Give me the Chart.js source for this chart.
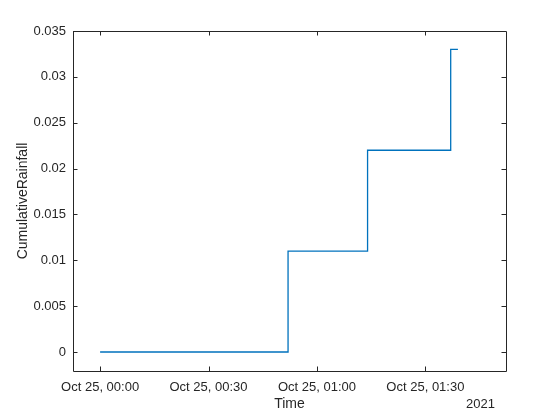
<!DOCTYPE html>
<html>
<head>
<meta charset="utf-8">
<script src="https://cdn.jsdelivr.net/npm/chart.js@4"></script>
<style>
  body { margin: 0; background: #fff; }
  canvas { display: block; }
</style>
</head>
<body>
<canvas id="myChart" width="560" height="420"></canvas>
<script>
// minutes after Oct 25 2021 00:00
const timeMinutes = [0, 52, 74, 97, 99];
const cumulativeRainfall = [0, 0.011, 0.022, 0.033, 0.033];

const xTickValues = [0, 30, 60, 90];
const xTickLabels = ["Oct 25, 00:00", "Oct 25, 00:30", "Oct 25, 01:00", "Oct 25, 01:30"];
const yTickValues = [0, 0.005, 0.01, 0.015, 0.02, 0.025, 0.03, 0.035];

const axisColor = "#262626";
const tickFont = { family: "'Liberation Sans', Arial, sans-serif", size: 13 };
const labelFont = { family: "'Liberation Sans', Arial, sans-serif", size: 14 };

// box round the plot with inward ticks on all four sides, like matlab
const boxPlugin = {
  id: "box",
  afterDraw(chart) {
    const { ctx, chartArea: a } = chart;
    const xs = chart.scales.x, ys = chart.scales.y;
    const len = 4.5;
    ctx.save();
    ctx.strokeStyle = axisColor;
    ctx.lineWidth = 1;
    ctx.beginPath();
    ctx.rect(Math.round(a.left) + 0.5, Math.round(a.top) + 0.5,
      Math.round(a.right - a.left), Math.round(a.bottom - a.top));
    xs.ticks.forEach((t) => {
      const px = Math.round(xs.getPixelForValue(t.value)) + 0.5;
      ctx.moveTo(px, a.bottom); ctx.lineTo(px, a.bottom - len);
      ctx.moveTo(px, a.top); ctx.lineTo(px, a.top + len);
    });
    ys.ticks.forEach((t) => {
      const py = Math.round(ys.getPixelForValue(t.value)) + 0.5;
      ctx.moveTo(a.left, py); ctx.lineTo(a.left + len, py);
      ctx.moveTo(a.right, py); ctx.lineTo(a.right - len, py);
    });
    ctx.stroke();
    // year label under the right end of the time axis
    ctx.fillStyle = axisColor;
    ctx.font = "13px 'Liberation Sans', Arial, sans-serif";
    ctx.textAlign = "right";
    ctx.textBaseline = "middle";
    ctx.fillText("2021", a.right - 11, 404);
    ctx.restore();
  },
};

const config = {
  type: "line",
  data: {
    datasets: [
      {
        data: timeMinutes.map((t, i) => ({ x: t, y: cumulativeRainfall[i] })),
        stepped: true,
        borderColor: "#0072BD",
        borderWidth: 1.3,
        pointRadius: 0,
        fill: false,
      },
    ],
  },
  options: {
    responsive: false,
    animation: false,
    layout: { padding: { top: 31, right: 54, left: 0, bottom: 0 } },
    plugins: { legend: { display: false }, tooltip: { enabled: false } },
    scales: {
      x: {
        type: "linear",
        min: -7.5,
        max: 112.3,
        grid: { display: false, drawTicks: false },
        border: { display: false },
        afterBuildTicks: (s) => { s.ticks = xTickValues.map((v) => ({ value: v })); },
        afterFit: (s) => { s.height = 49; },
        ticks: {
          color: axisColor,
          font: tickFont,
          padding: 9,
          maxRotation: 0,
          autoSkip: false,
          callback: (v) => xTickLabels[xTickValues.indexOf(v)],
        },
        title: { display: true, text: "Time", color: axisColor, font: labelFont, padding: { top: 7, bottom: 7 } },
      },
      y: {
        min: -0.00207,
        max: 0.035,
        grid: { display: false, drawTicks: false },
        border: { display: false },
        afterBuildTicks: (s) => { s.ticks = yTickValues.map((v) => ({ value: v })); },
        afterFit: (s) => { s.width = 73; },
        ticks: {
          color: axisColor,
          font: tickFont,
          padding: 7,
          callback: (v) => String(+v.toFixed(3)),
        },
        title: { display: true, text: "CumulativeRainfall", color: axisColor, font: labelFont, padding: { top: 15, bottom: 15 } },
      },
    },
  },
  plugins: [boxPlugin],
};

var myChart = new Chart(document.getElementById("myChart"), config);
</script>
</body>
</html>
